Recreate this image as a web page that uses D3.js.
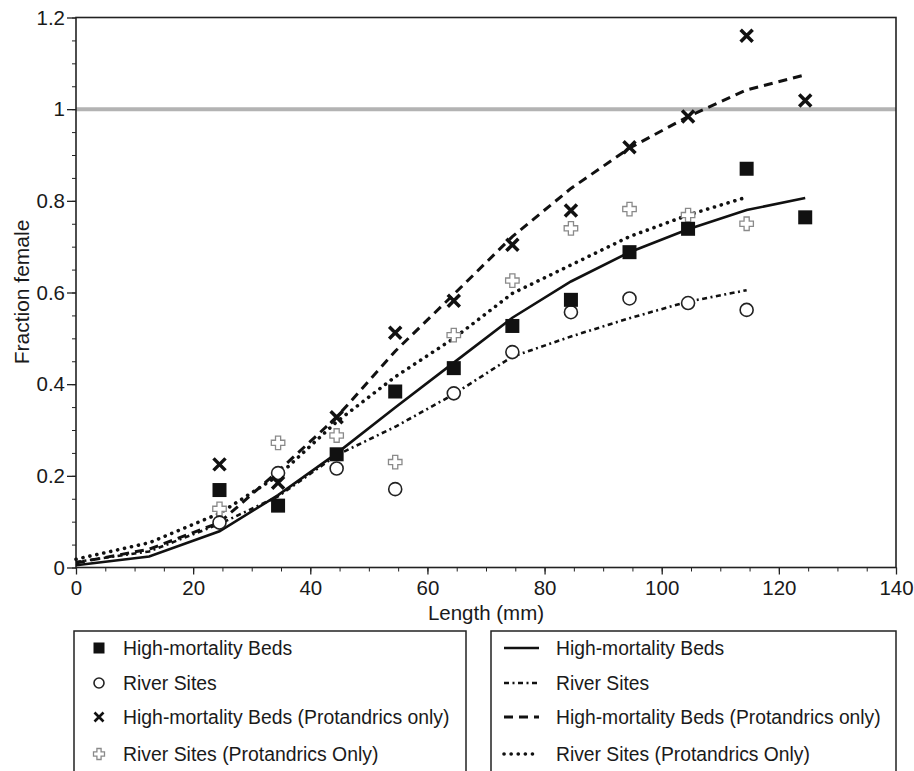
<!DOCTYPE html>
<html>
<head>
<meta charset="utf-8">
<script src="https://cdn.jsdelivr.net/npm/d3@7"></script>
<style>
  body { margin: 0; background: #fff; }
  svg text { font-family: "Liberation Sans", Arial, Helvetica, sans-serif; fill: #1a1a1a; }
  .axis path, .axis line { stroke: #222; }
</style>
</head>
<body>
<div id="chart"></div>
<script>
// ---- data ----
const lengths = [24.5, 34.5, 44.5, 54.5, 64.5, 74.5, 84.5, 94.5, 104.5, 114.5, 124.5];
const bedsObs = [0.169, 0.135, 0.247, 0.384, 0.435, 0.527, 0.584, 0.688, 0.739, 0.870, 0.764];
const riverObs = [0.098, 0.206, 0.216, 0.171, 0.380, 0.470, 0.557, 0.587, 0.577, 0.562];
const bedsProtObs = [0.225, 0.185, 0.328, 0.512, 0.582, 0.704, 0.779, 0.917, 0.984, 1.160, 1.019];
const riverProtObs = [0.128, 0.272, 0.288, 0.230, 0.507, 0.626, 0.740, 0.782, 0.769, 0.750];

// fitted curves, sampled where the drawn lines bend
const fitX = [0, 12.5, 24.5, 34.5, 44.5, 54.5, 64.5, 74.5, 84.5, 94.5, 104.5, 114.5, 124.5];
const bedsFit = [0.005, 0.024, 0.079, 0.158, 0.249, 0.349, 0.447, 0.545, 0.624, 0.688, 0.738, 0.780, 0.806];
const riverFit = [0.012, 0.035, 0.095, 0.155, 0.245, 0.307, 0.378, 0.460, 0.504, 0.544, 0.580, 0.605];
const bedsProtFit = [0.010, 0.040, 0.098, 0.210, 0.328, 0.472, 0.596, 0.722, 0.827, 0.915, 0.984, 1.042, 1.075];
const riverProtFit = [0.018, 0.054, 0.118, 0.200, 0.318, 0.416, 0.500, 0.598, 0.660, 0.722, 0.769, 0.808];

const xTicks = [0, 20, 40, 60, 80, 100, 120, 140];
const yTicks = [0, 0.2, 0.4, 0.6, 0.8, 1, 1.2];
const yTickLabels = ["0", "0.2", "0.4", "0.6", "0.8", "1", "1.2"];
const refLine = 1;

const symbolNames = ["High-mortality Beds", "River Sites", "High-mortality Beds (Protandrics only)", "River Sites (Protandrics Only)"];
const lineNames = ["High-mortality Beds", "River Sites", "High-mortality Beds (Protandrics only)", "River Sites (Protandrics Only)"];

// ---- layout ----
const W = 914, H = 771;
const margin = {top: 17.5, right: 18, bottom: 203.5, left: 76};
const width = W - margin.left - margin.right;
const height = H - margin.top - margin.bottom;

const svg = d3.select("#chart").append("svg")
    .attr("width", W)
    .attr("height", H);

const g = svg.append("g")
    .attr("transform", `translate(${margin.left},${margin.top})`);

const x = d3.scaleLinear().domain([0, 140]).range([0, width]);
const y = d3.scaleLinear().domain([0, 1.2]).range([height, 0]);

// minor ticks
g.append("g")
    .attr("class", "axis")
    .attr("transform", `translate(0,${height})`)
    .call(d3.axisBottom(x).tickValues(d3.range(0, 141, 5)).tickSize(4).tickFormat(""))
    .call(s => s.select(".domain").remove());
g.append("g")
    .attr("class", "axis")
    .call(d3.axisLeft(y).tickValues(d3.range(0, 1.2001, 0.05)).tickSize(4).tickFormat(""))
    .call(s => s.select(".domain").remove());

// major ticks
const xAxis = g.append("g")
    .attr("class", "axis")
    .attr("transform", `translate(0,${height})`)
    .call(d3.axisBottom(x).tickValues(xTicks).tickSize(7).tickSizeOuter(0).tickPadding(6));
const yAxis = g.append("g")
    .attr("class", "axis")
    .call(d3.axisLeft(y).tickValues(yTicks).tickSize(9).tickSizeOuter(0).tickPadding(2)
        .tickFormat((d, i) => yTickLabels[i]));

[xAxis, yAxis].forEach(a => {
    a.selectAll("text").style("font-size", "20.5px").attr("fill", "#1a1a1a");
    a.selectAll("line").attr("stroke-width", 1.3);
    a.select(".domain").remove();
});

// reference line at 1
g.append("line")
    .attr("x1", 0).attr("x2", width)
    .attr("y1", y(refLine)).attr("y2", y(refLine))
    .attr("stroke", "#b3b3b3")
    .attr("stroke-width", 4);

// frame
g.append("rect")
    .attr("width", width).attr("height", height)
    .attr("fill", "none")
    .attr("stroke", "#222")
    .attr("stroke-width", 1.6);

// axis titles
svg.append("text")
    .attr("x", margin.left + width / 2)
    .attr("y", 620)
    .attr("text-anchor", "middle")
    .style("font-size", "20.5px")
    .text("Length (mm)");

svg.append("text")
    .attr("transform", `translate(29,${292}) rotate(-90)`)
    .attr("text-anchor", "middle")
    .style("font-size", "21px")
    .text("Fraction female");

// ---- fitted lines ----
const lineStyles = [
    {dash: null, w: 2.6, cap: "butt"},
    {dash: "5,3.5,2,3.5", w: 2.6, cap: "butt"},
    {dash: "9,6", w: 3, cap: "butt"},
    {dash: "0.1,7", w: 3.6, cap: "round"}
];
const fits = [bedsFit, riverFit, bedsProtFit, riverProtFit];

const line = d3.line()
    .x(d => x(d[0]))
    .y(d => y(d[1]));

fits.forEach((vals, i) => {
    const pts = vals.map((v, j) => [fitX[j], v]);
    g.append("path")
        .datum(pts)
        .attr("d", line)
        .attr("fill", "none")
        .attr("stroke", "#111")
        .attr("stroke-width", lineStyles[i].w)
        .attr("stroke-linecap", lineStyles[i].cap)
        .attr("stroke-dasharray", lineStyles[i].dash);
});

// ---- markers ----
function plusPath(a, b) {
    // outlined plus: arm half-width a, arm reach b
    return `M${-a},${-b}H${a}V${-a}H${b}V${a}H${a}V${b}H${-a}V${a}H${-b}V${-a}H${-a}Z`;
}

function drawMarker(sel, type, size) {
    if (type === 0) {
        sel.append("rect")
            .attr("x", -size / 2).attr("y", -size / 2)
            .attr("width", size).attr("height", size)
            .attr("fill", "#111");
    } else if (type === 1) {
        sel.append("circle")
            .attr("r", size / 2)
            .attr("fill", "#fff")
            .attr("stroke", "#222")
            .attr("stroke-width", 1.6);
    } else if (type === 2) {
        const h = size / 2;
        sel.append("path")
            .attr("d", `M${-h},${-h}L${h},${h}M${-h},${h}L${h},${-h}`)
            .attr("stroke", "#111")
            .attr("stroke-width", size / 3.4)
            .attr("fill", "none");
    } else {
        sel.append("path")
            .attr("d", plusPath(size * 0.19, size / 2))
            .attr("fill", "#fff")
            .attr("stroke", "#8a8a8a")
            .attr("stroke-width", 1.3);
    }
}

const observed = [bedsObs, riverObs, bedsProtObs, riverProtObs];
const markerSize = [14, 13, 12, 13.5];
const drawOrder = [3, 1, 0, 2];

drawOrder.forEach(i => {
    observed[i].forEach((v, j) => {
        const m = g.append("g")
            .attr("transform", `translate(${x(lengths[j])},${y(v)})`);
        drawMarker(m, i, markerSize[i]);
    });
});

// ---- legends ----
const rowY = [648, 683, 717, 754];

const leg1 = svg.append("g").attr("class", "legend");
leg1.append("rect")
    .attr("x", 74).attr("y", 631)
    .attr("width", 392).attr("height", 170)
    .attr("fill", "none").attr("stroke", "#222").attr("stroke-width", 1.5);

const legSize = [11, 10, 9, 11];
symbolNames.forEach((name, i) => {
    const m = leg1.append("g").attr("transform", `translate(99,${rowY[i]})`);
    drawMarker(m, i, legSize[i]);
    leg1.append("text")
        .attr("x", 123).attr("y", rowY[i] + 7)
        .style("font-size", "19.4px")
        .text(name);
});

const leg2 = svg.append("g").attr("class", "legend");
leg2.append("rect")
    .attr("x", 491).attr("y", 631)
    .attr("width", 405).attr("height", 170)
    .attr("fill", "none").attr("stroke", "#222").attr("stroke-width", 1.5);

lineNames.forEach((name, i) => {
    leg2.append("line")
        .attr("x1", 504).attr("x2", 539)
        .attr("y1", rowY[i]).attr("y2", rowY[i])
        .attr("stroke", "#111")
        .attr("stroke-width", lineStyles[i].w)
        .attr("stroke-linecap", lineStyles[i].cap)
        .attr("stroke-dasharray", lineStyles[i].dash);
    leg2.append("text")
        .attr("x", 556).attr("y", rowY[i] + 7)
        .style("font-size", "19.3px")
        .text(name);
});
</script>
</body>
</html>
